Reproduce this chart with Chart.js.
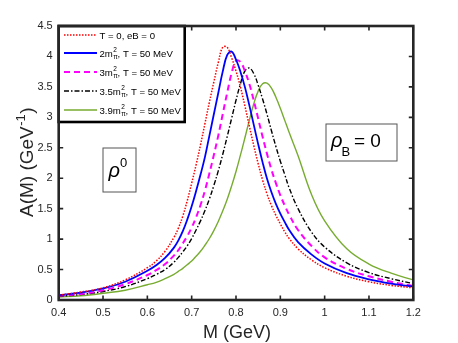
<!DOCTYPE html>
<html>
<head>
<meta charset="utf-8">
<script src="https://cdn.jsdelivr.net/npm/chart.js@4/dist/chart.umd.min.js"></script>
<style>
  html, body { margin: 0; padding: 0; background: #fff; }
  canvas { display: block; }
</style>
</head>
<body>
<canvas id="chartContainer" width="458" height="343"></canvas>
<script>
"use strict";

// 1: data
// invariant mass M (GeV)
const mass = [0.40, 0.45, 0.50, 0.55, 0.60, 0.62, 0.64,
  0.66, 0.67, 0.68, 0.69, 0.70, 0.71, 0.72, 0.73, 0.74, 0.75, 0.76, 0.77, 0.78, 0.79,
  0.80, 0.81, 0.82, 0.83, 0.84, 0.85, 0.86, 0.87, 0.88, 0.89, 0.90, 0.91, 0.92,
  0.94, 0.97, 1.00, 1.05, 1.10, 1.15, 1.20];

// spectral function A(M) for each case
const vacuum = [0.08, 0.13, 0.20, 0.33, 0.53, 0.64, 0.80,
  1.03, 1.18, 1.38, 1.63, 1.92, 2.22, 2.55, 2.90, 3.25, 3.58, 3.90, 4.15, 4.15, 3.98,
  3.76, 3.50, 3.19, 2.86, 2.54, 2.24, 1.97, 1.74, 1.55, 1.39, 1.25, 1.12, 1.01,
  0.84, 0.66, 0.53, 0.39, 0.30, 0.24, 0.20];
const eB2 = [0.08, 0.12, 0.19, 0.30, 0.48, 0.57, 0.69,
  0.86, 0.98, 1.13, 1.32, 1.54, 1.79, 2.06, 2.35, 2.70, 3.05, 3.40, 3.75, 4.02, 4.08,
  3.95, 3.75, 3.50, 3.20, 2.88, 2.56, 2.26, 1.99, 1.77, 1.58, 1.42, 1.28, 1.15,
  0.95, 0.75, 0.60, 0.44, 0.34, 0.27, 0.22];
const eB3 = [0.07, 0.10, 0.16, 0.26, 0.41, 0.49, 0.59,
  0.73, 0.82, 0.93, 1.05, 1.19, 1.36, 1.56, 1.80, 2.08, 2.38, 2.70, 3.05, 3.40, 3.72,
  3.93, 3.91, 3.76, 3.55, 3.28, 2.98, 2.68, 2.40, 2.14, 1.92, 1.72, 1.55, 1.40,
  1.15, 0.89, 0.70, 0.51, 0.39, 0.30, 0.23];
const eB35 = [0.06, 0.09, 0.14, 0.22, 0.35, 0.42, 0.50,
  0.62, 0.70, 0.79, 0.89, 1.01, 1.15, 1.30, 1.47, 1.66, 1.88, 2.12, 2.39, 2.68, 2.98,
  3.28, 3.55, 3.76, 3.81, 3.72, 3.53, 3.30, 3.05, 2.78, 2.52, 2.28, 2.06, 1.84,
  1.50, 1.12, 0.87, 0.61, 0.45, 0.35, 0.27];
const eB39 = [0.05, 0.07, 0.11, 0.16, 0.25, 0.29, 0.35,
  0.42, 0.47, 0.52, 0.58, 0.64, 0.72, 0.80, 0.90, 1.01, 1.14, 1.29, 1.46, 1.65, 1.87,
  2.11, 2.38, 2.66, 2.95, 3.22, 3.43, 3.55, 3.56, 3.48, 3.33, 3.15, 2.95, 2.75,
  2.37, 1.74, 1.30, 0.84, 0.59, 0.44, 0.33];

// legend: prefix before m, rest after m^2_pi
const legendPrefix = ["", "2", "3", "3.5", "3.9"];
const legendFirst = "T = 0, eB = 0";
const legendRest = ", T = 50 MeV";

// axis ticks
const xTicks = [0.4, 0.5, 0.6, 0.7, 0.8, 0.9, 1.0, 1.1, 1.2];
const xTickLabels = ["0.4", "0.5", "0.6", "0.7", "0.8", "0.9", "1", "1.1", "1.2"];
const yTicks = [0, 0.5, 1, 1.5, 2, 2.5, 3, 3.5, 4, 4.5];
const yTickLabels = ["0", "0.5", "1", "1.5", "2", "2.5", "3", "3.5", "4", "4.5"];

const FONT = "'Liberation Sans', Arial, sans-serif";
const AXIS = "#262626";

// 2: turn the arrays into {x, y} points for a linear x axis
function toPoints(values) {
  return mass.map((m, i) => ({ x: m, y: values[i] }));
}

// line styles for the five curves
const styles = [
  { color: "#ff0000", width: 1.5, dash: [1.5, 1.5] },
  { color: "#0000ff", width: 1.8, dash: [] },
  { color: "#ff00ff", width: 2, dash: [6, 4] },
  { color: "#000000", width: 1.4, dash: [5, 2, 1.5, 2] },
  { color: "#77ac30", width: 1.4, dash: [] }
];
const series = [vacuum, eB2, eB3, eB35, eB39];

// 3: extra drawing (box, inside ticks, legend, labels)
const decorations = {
  id: "decorations",
  afterDraw(chart) {
    const ctx = chart.ctx;
    const area = chart.chartArea;
    const xs = chart.scales.x;
    const ys = chart.scales.y;
    ctx.save();

    // inside tick marks on all four sides
    ctx.strokeStyle = AXIS;
    ctx.lineWidth = 1.6;
    ctx.beginPath();
    for (const v of xTicks) {
      const px = xs.getPixelForValue(v);
      ctx.moveTo(px, area.bottom); ctx.lineTo(px, area.bottom - 4.5);
      ctx.moveTo(px, area.top); ctx.lineTo(px, area.top + 4.5);
    }
    for (const v of yTicks) {
      const py = ys.getPixelForValue(v);
      ctx.moveTo(area.left, py); ctx.lineTo(area.left + 4.5, py);
      ctx.moveTo(area.right, py); ctx.lineTo(area.right - 4.5, py);
    }
    ctx.stroke();

    // legend box
    const lx = area.left, ly = area.top, lw = 126, lh = 96;
    ctx.fillStyle = "#fff";
    ctx.fillRect(lx, ly, lw, lh);
    ctx.strokeStyle = "#000";
    ctx.lineWidth = 2.6;
    ctx.strokeRect(lx, ly, lw, lh);
    const rowsY = [35, 53, 72, 91, 110];
    ctx.textBaseline = "alphabetic";
    ctx.textAlign = "left";
    styles.forEach((st, i) => {
      const y = rowsY[i];
      ctx.strokeStyle = st.color;
      ctx.lineWidth = st.width;
      ctx.setLineDash(st.dash);
      ctx.beginPath();
      ctx.moveTo(64, y); ctx.lineTo(97, y);
      ctx.stroke();
      ctx.setLineDash([]);
      ctx.fillStyle = "#000";
      ctx.font = "9.6px " + FONT;
      let tx = 99.5;
      const base = y + 3.5;
      if (i === 0) {
        ctx.fillText(legendFirst, tx, base);
        return;
      }
      const head = legendPrefix[i] + "m";
      ctx.fillText(head, tx, base);
      tx += ctx.measureText(head).width + 0.3;
      ctx.font = "6.5px " + FONT;
      ctx.fillText("2", tx, base - 5);
      ctx.fillText("\u03c0", tx, base + 2.5);
      tx += Math.max(ctx.measureText("2").width, ctx.measureText("\u03c0").width);
      ctx.font = "9.6px " + FONT;
      ctx.fillText(legendRest, tx, base);
    });

    // rho^0 box
    ctx.strokeStyle = "#555";
    ctx.lineWidth = 1;
    ctx.strokeRect(103, 148, 33, 44);
    ctx.fillStyle = "#000";
    ctx.font = "italic 20px " + FONT;
    ctx.fillText("\u03c1", 108.5, 177);
    ctx.font = "13px " + FONT;
    ctx.fillText("0", 120, 167);

    // rho_B = 0 box
    ctx.strokeRect(326, 124, 71, 37);
    ctx.font = "italic 20px " + FONT;
    ctx.fillText("\u03c1", 331, 147);
    ctx.font = "13px " + FONT;
    ctx.fillText("B", 341.5, 156);
    ctx.font = "19px " + FONT;
    ctx.fillText("= 0", 354, 147);

    // axis titles
    ctx.fillStyle = AXIS;
    ctx.font = "18px " + FONT;
    ctx.textAlign = "center";
    ctx.fillText("M (GeV)", (area.left + area.right) / 2 + 1, 338);

    ctx.translate(33, 217);
    ctx.rotate(-Math.PI / 2);
    ctx.textAlign = "left";
    ctx.font = "19px " + FONT;
    const t1 = "A(M) (GeV";
    ctx.fillText(t1, 0, 0);
    let off = ctx.measureText(t1).width;
    ctx.font = "13px " + FONT;
    ctx.fillText("-1", off + 0.5, -8);
    off += ctx.measureText("-1").width + 1;
    ctx.font = "19px " + FONT;
    ctx.fillText(")", off, 0);
    ctx.restore();

    // axes box on top of everything
    ctx.save();
    ctx.strokeStyle = AXIS;
    ctx.lineWidth = 2.6;
    ctx.strokeRect(area.left, area.top, area.right - area.left, area.bottom - area.top);
    ctx.restore();
  }
};

// 4: create the chart
const chartContainer = document.getElementById("chartContainer");
const chart = new Chart(chartContainer, {
  type: "line",
  data: {
    datasets: series.map((values, i) => ({
      data: toPoints(values),
      borderColor: styles[i].color,
      borderWidth: styles[i].width,
      borderDash: styles[i].dash,
      pointRadius: 0,
      fill: false,
      tension: 0.4
    }))
  },
  options: {
    responsive: false,
    animation: false,
    devicePixelRatio: 1,
    layout: { padding: { top: 26, right: 44.7, left: 0, bottom: 0 } },
    plugins: {
      legend: { display: false },
      tooltip: { enabled: false }
    },
    scales: {
      x: {
        type: "linear",
        min: 0.4,
        max: 1.2,
        afterBuildTicks: (scale) => { scale.ticks = xTicks.map(v => ({ value: v })); },
        afterFit: (scale) => { scale.height = 43; },
        grid: { display: false, drawTicks: false },
        border: { display: false },
        ticks: {
          callback: (value, index) => xTickLabels[index],
          font: { family: FONT, size: 11 },
          color: AXIS,
          padding: 6,
          maxRotation: 0,
          autoSkip: false
        }
      },
      y: {
        min: 0,
        max: 4.5,
        afterBuildTicks: (scale) => { scale.ticks = yTicks.map(v => ({ value: v })); },
        afterFit: (scale) => { scale.width = 58.7; },
        grid: { display: false, drawTicks: false },
        border: { display: false },
        ticks: {
          callback: (value, index) => yTickLabels[index],
          font: { family: FONT, size: 11 },
          color: AXIS,
          padding: 6,
          autoSkip: false
        }
      }
    }
  },
  plugins: [decorations]
});
</script>
</body>
</html>
